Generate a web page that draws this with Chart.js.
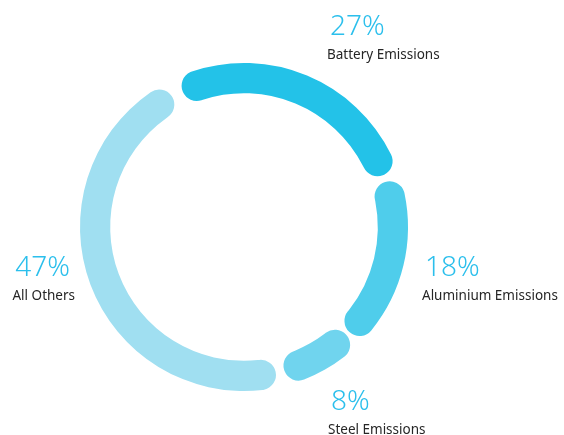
<!DOCTYPE html>
<html>
<head>
<meta charset="utf-8">
<script src="https://cdn.jsdelivr.net/npm/chart.js@4.4.1/dist/chart.umd.min.js"></script>
<style>
  html, body { margin: 0; padding: 0; background: #fff; }
  #wrap { width: 564px; height: 435px; }
</style>
</head>
<body>
<div id="wrap"><canvas id="emissionsChart" width="564" height="435"></canvas></div>
<script>
const categories = ['Battery Emissions', 'Aluminium Emissions', 'Steel Emissions', 'All Others'];
const shares = [27, 18, 8, 47];
const sliceColors = ['#23c2e8', '#4fcdeb', '#70d4ee', '#a0dff1'];

// where each annotation goes: [x, y of the percent baseline, text align]
const labelSpots = [
  [330, 35, 'left'],
  [425, 276, 'left'],
  [331, 410, 'left'],
  [70, 276, 'right'],
];

const labelPlugin = {
  id: 'sliceLabels',
  afterDraw(chart) {
    const ctx = chart.ctx;
    ctx.save();
    categories.forEach((name, i) => {
      const [x, y, align] = labelSpots[i];
      ctx.textAlign = align;
      ctx.textBaseline = 'alphabetic';
      ctx.fillStyle = '#2bbfec';
      ctx.font = '300 28px "Noto Sans", "Open Sans", sans-serif';
      ctx.fillText(shares[i] + '%', x, y);
      ctx.fillStyle = '#262626';
      ctx.font = '13.5px "Noto Sans", "Open Sans", sans-serif';
      let lx = align === 'right' ? x + 5 : x - 3;
      ctx.fillText(name, lx, y + 24);
    });
    ctx.restore();
  },
};

const ctx = document.getElementById('emissionsChart').getContext('2d');
const chart = new Chart(ctx, {
  type: 'doughnut',
  data: {
    labels: categories,
    datasets: [{
      data: shares,
      backgroundColor: sliceColors,
      borderWidth: 0,
      borderRadius: 20,
      spacing: 10,
    }],
  },
  options: {
    responsive: false,
    animation: false,
    rotation: -26,
    cutout: '81%',
    layout: { padding: { left: 80, right: 156, top: 63, bottom: 44 } },
    plugins: {
      legend: { display: false },
      tooltip: { enabled: false },
    },
  },
  plugins: [labelPlugin],
});
</script>
</body>
</html>
